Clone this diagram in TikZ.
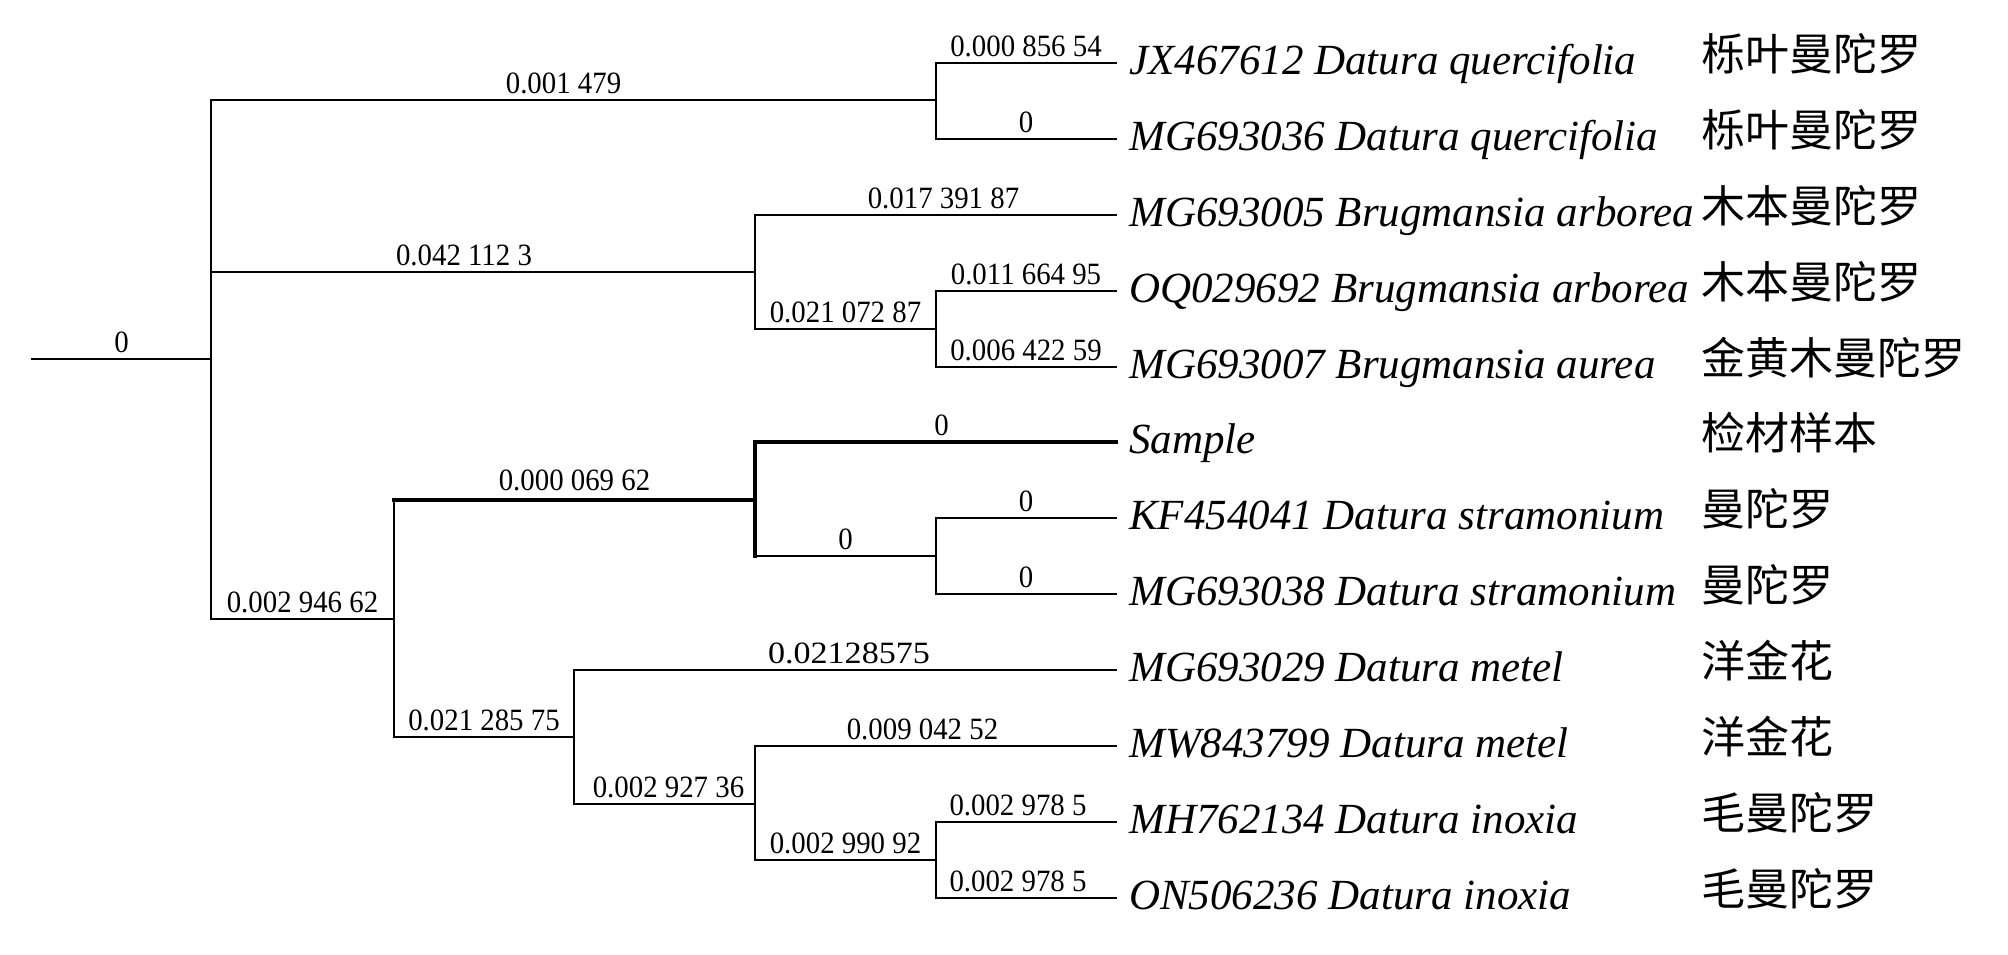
\documentclass[tikz,border=0pt]{standalone}
\usepackage{fontspec}
\usepackage{graphicx}
\setmainfont{Liberation Serif}
\newfontfamily\cjk{Noto Sans CJK SC}
\newcommand\nlab[1]{\scalebox{0.93}[1]{#1}}
\begin{document}
\begin{tikzpicture}[x=1pt,y=-1pt,
  br/.style={line width=2.7pt,line cap=rect},
  hb/.style={line width=4.6pt,line cap=rect},
  lbl/.style={anchor=base,yshift=7pt,inner sep=0pt,font=\fontsize{31}{34}\selectfont},
  taxon/.style={anchor=base west,inner sep=0pt,font=\fontsize{43}{46}\selectfont\itshape},
  cname/.style={anchor=base west,inner sep=0pt,font=\fontsize{44}{48}\selectfont\cjk}]
\useasboundingbox (0,0) rectangle (2008,954);
% internal nodes
\coordinate (r0) at (32,359);
\coordinate (R) at (211,359);
\coordinate (A) at (936,100);
\coordinate (B) at (755,272);
\coordinate (B2) at (936,329);
\coordinate (C) at (394,619);
\coordinate (S) at (755,500);
\coordinate (S2) at (936,556);
\coordinate (M) at (574,737);
\coordinate (M2) at (755,804);
\coordinate (M3) at (936,860);
% leaves and their labels
\foreach \i/\y/\t/\c in {
  1/63/JX467612 Datura quercifolia/栎叶曼陀罗,
  2/139/MG693036 Datura quercifolia/栎叶曼陀罗,
  3/215/MG693005 Brugmansia arborea/木本曼陀罗,
  4/291/OQ029692 Brugmansia arborea/木本曼陀罗,
  5/367/MG693007 Brugmansia aurea/金黄木曼陀罗,
  6/442/Sample/检材样本,
  7/518/KF454041 Datura stramonium/曼陀罗,
  8/594/MG693038 Datura stramonium/曼陀罗,
  9/670/MG693029 Datura metel/洋金花,
  10/746/MW843799 Datura metel/洋金花,
  11/822/MH762134 Datura inoxia/毛曼陀罗,
  12/898/ON506236 Datura inoxia/毛曼陀罗}{
  \coordinate (l\i) at (1116,\y);
  \path (l\i) ++(13,11) node[taxon] (t\i) {\t};
  \path (l\i) ++(585,7) node[cname] (c\i) {\c};
}
% branches
\draw[br] (r0) -- (R) node[lbl,midway]{\nlab{0}};
\draw[br] (R) |- (A) node[lbl,pos=0.75,xshift=-10pt]{\nlab{0.001 479}};
\draw[br] (A) |- (l1) node[lbl,pos=0.75]{\nlab{0.000 856 54}};
\draw[br] (A) |- (l2) node[lbl,pos=0.75]{\nlab{0}};
\draw[br] (R) |- (B) node[lbl,pos=0.75,xshift=-19pt]{\nlab{0.042 112 3}};
\draw[br] (B) |- (l3) node[lbl,pos=0.75,xshift=8pt]{\nlab{0.017 391 87}};
\draw[br] (B) |- (B2) node[lbl,pos=0.75]{\nlab{0.021 072 87}};
\draw[br] (B2) |- (l4) node[lbl,pos=0.75]{\nlab{0.011 664 95}};
\draw[br] (B2) |- (l5) node[lbl,pos=0.75]{\nlab{0.006 422 59}};
\draw[br] (R) |- (C) node[lbl,pos=0.75]{\nlab{0.002 946 62}};
\draw[br] (C) |- (S);
\draw[hb] (S -| C) -- (S) node[lbl,midway,yshift=3pt]{\nlab{0.000 069 62}};
\draw[hb] (S) |- (l6) node[lbl,pos=0.75,xshift=6pt]{\nlab{0}};
\draw[hb] (S) -- (S |- S2);
\draw[br] (S |- S2) -- (S2) node[lbl,midway]{\nlab{0}};
\draw[br] (S2) |- (l7) node[lbl,pos=0.75]{\nlab{0}};
\draw[br] (S2) |- (l8) node[lbl,pos=0.75]{\nlab{0}};
\draw[br] (C) |- (M) node[lbl,pos=0.75]{\nlab{0.021 285 75}};
\draw[br] (M) |- (l9) node[lbl,pos=0.75,xshift=4pt]{\scalebox{1.1}[1]{0.02128575}};
\draw[br] (M) |- (M2) node[lbl,pos=0.75,xshift=4pt]{\nlab{0.002 927 36}};
\draw[br] (M2) |- (l10) node[lbl,pos=0.75,xshift=-13pt]{\nlab{0.009 042 52}};
\draw[br] (M2) |- (M3) node[lbl,pos=0.75]{\nlab{0.002 990 92}};
\draw[br] (M3) |- (l11) node[lbl,pos=0.75,xshift=-8pt]{\nlab{0.002 978 5}};
\draw[br] (M3) |- (l12) node[lbl,pos=0.75,xshift=-8pt]{\nlab{0.002 978 5}};
\end{tikzpicture}
\end{document}
